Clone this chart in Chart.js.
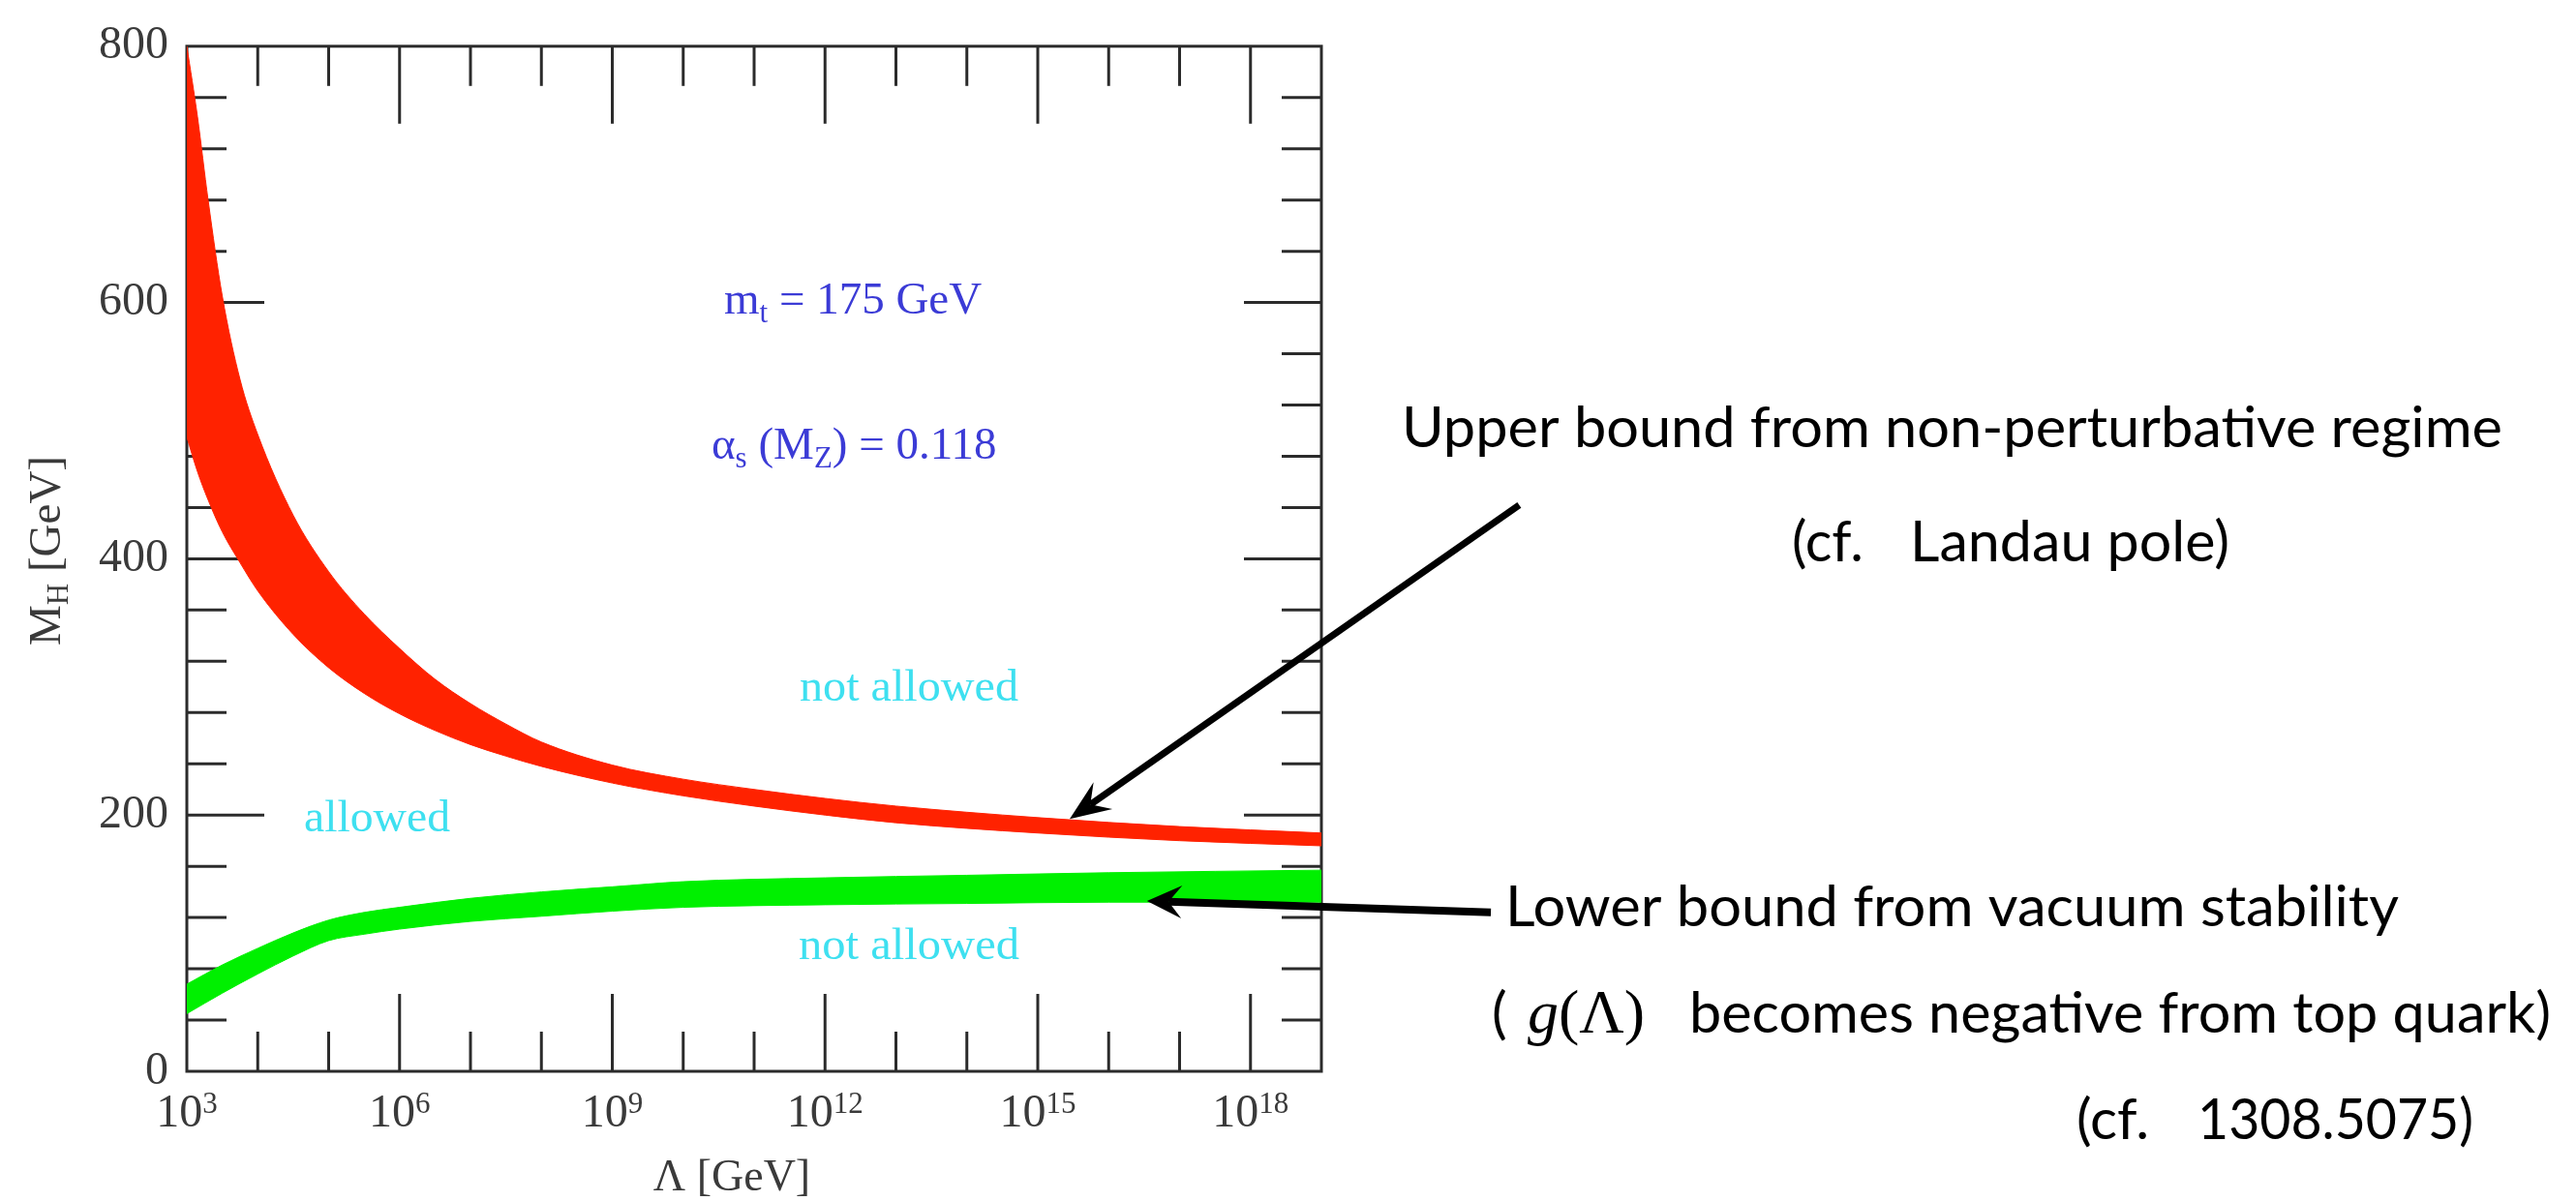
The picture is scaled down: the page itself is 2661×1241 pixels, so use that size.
<!DOCTYPE html>
<html><head><meta charset="utf-8">
<script src="https://cdn.jsdelivr.net/npm/chart.js@4.4.1/dist/chart.umd.min.js"></script>
<style>html,body{margin:0;padding:0;background:#fff;overflow:hidden}canvas{display:block}</style>
</head><body>
<canvas id="c" width="2661" height="1241"></canvas>
<script>
// ---- data (x given as log10 of Lambda in GeV) ----
const redExp     = [3, 3.15, 3.3, 3.5, 3.75, 4, 4.5, 5, 5.5, 6, 6.5, 7, 7.5, 8, 9, 10, 11, 12, 13, 15, 17, 19];
const redUpper   = [800, 745, 680, 605, 540, 497, 434, 390, 357, 330, 306, 287, 271, 257, 239, 228, 220, 213, 207, 198, 191, 186];
const redLower   = [495, 468, 446, 421, 397, 375, 341, 315, 295, 279, 266, 255, 246, 238, 225, 215, 207, 200, 194, 186, 180, 176];
const greenExp   = [3, 3.5, 4, 4.5, 5, 5.5, 6, 7, 8, 9, 10, 12, 14, 16, 19];
const greenUpper = [68, 83, 96, 108, 118, 124, 128, 135, 140, 144, 148, 151, 153, 155, 157];
const greenLower = [45, 61, 76, 90, 102, 107, 111, 117, 121, 125, 128, 130, 131, 132, 132];
const xTickExps  = [3,4,5,6,7,8,9,10,11,12,13,14,15,16,17,18,19];
const xLabelExps = [3,6,9,12,15,18];
const yLabelVals = [0,200,400,600,800];

const RED = '#ff2200', GREEN = '#00f000';
const BLUE = '#3b3bd6', CYAN = '#3ee0f0', INK = '#2b2b2b';
const SERIF = '"Liberation Serif", "Times New Roman", serif';
const SANS = 'Lato, "Open Sans", sans-serif';

const pts = (ex, vals) => ex.map((e, i) => ({x: Math.pow(10, e), y: vals[i]}));

// arrows: data coordinates (log10 Lambda, M_H)
const arrows = [
  {from: [21.79, 442], to: [15.45, 197], lw: 7, len: 42, half: 17},
  {from: [21.39, 124], to: [16.54, 133], lw: 8, len: 36, half: 17}
];

function fitText(ctx, str, x0, x1, base, font, color) {
  ctx.save();
  ctx.font = font;
  const w = ctx.measureText(str).width;
  ctx.translate(x0, base);
  ctx.scale((x1 - x0) / w, 1);
  ctx.fillStyle = color; ctx.textAlign = 'left'; ctx.textBaseline = 'alphabetic';
  ctx.fillText(str, 0, 0);
  ctx.restore();
}
function runs(ctx, list, x, base, color, family) {
  ctx.save();
  ctx.fillStyle = color; ctx.textAlign = 'left'; ctx.textBaseline = 'alphabetic';
  list.forEach(r => {
    ctx.font = (r.style || '') + ' ' + r.size + 'px ' + family;
    ctx.fillText(r.t, x, base + (r.dy || 0));
    x += ctx.measureText(r.t).width;
  });
  ctx.restore();
  return x;
}
function runsWidth(ctx, list, family) {
  let w = 0;
  ctx.save();
  list.forEach(r => { ctx.font = (r.style || '') + ' ' + r.size + 'px ' + family; w += ctx.measureText(r.t).width; });
  ctx.restore();
  return w;
}
function drawArrow(ctx, x0, y0, x1, y1, lw, len, half) {
  const a = Math.atan2(y1 - y0, x1 - x0), c = Math.cos(a), s = Math.sin(a);
  const notch = len * 0.62;
  const bx = x1 - c * notch, by = y1 - s * notch;
  const hx = x1 - c * len, hy = y1 - s * len;
  ctx.save();
  ctx.strokeStyle = '#000'; ctx.fillStyle = '#000'; ctx.lineWidth = lw; ctx.lineCap = 'butt';
  ctx.beginPath(); ctx.moveTo(x0, y0); ctx.lineTo(bx, by); ctx.stroke();
  ctx.beginPath(); ctx.moveTo(x1, y1);
  ctx.lineTo(hx - s * half, hy + c * half);
  ctx.lineTo(bx, by);
  ctx.lineTo(hx + s * half, hy - c * half);
  ctx.closePath(); ctx.fill();
  ctx.restore();
}

const decor = {
  id: 'decor',
  beforeDatasetsDraw(chart) {
    const {ctx, chartArea: a, scales: {x, y}} = chart;
    ctx.save();
    ctx.strokeStyle = INK; ctx.lineWidth = 3; ctx.lineCap = 'butt';
    const seg = (x0, y0, x1, y1) => { ctx.beginPath(); ctx.moveTo(x0, y0); ctx.lineTo(x1, y1); ctx.stroke(); };
    x.ticks.forEach(t => {
      const e = Math.round(Math.log10(t.value));
      if (e <= 3 || e >= 19) return;
      const px = x.getPixelForValue(t.value);
      const len = xLabelExps.includes(e) ? 80 : 41;
      seg(px, a.bottom, px, a.bottom - len);
      seg(px, a.top, px, a.top + len);
    });
    y.ticks.forEach(t => {
      if (t.value <= 0 || t.value >= 800) return;
      const py = y.getPixelForValue(t.value);
      const len = yLabelVals.includes(t.value) ? 80 : 41;
      seg(a.left, py, a.left + len, py);
      seg(a.right, py, a.right - len, py);
    });
    ctx.strokeRect(a.left, a.top, a.right - a.left, a.bottom - a.top);
    ctx.restore();
  },
  afterDraw(chart) {
    const {ctx, scales: {x, y}} = chart;
    // x tick labels 10^n
    x.ticks.forEach(t => {
      const e = Math.round(Math.log10(t.value));
      if (!xLabelExps.includes(e)) return;
      const px = x.getPixelForValue(t.value);
      const list = [{t: '10', size: 48}, {t: String(e), size: 31, dy: -14}];
      const w = runsWidth(ctx, list, SERIF);
      runs(ctx, list, px - w / 2, 1164, '#3a3a3a', SERIF);
    });
    // axis titles
    const xt = [{t: '\u039B [GeV]', size: 46}];
    runs(ctx, xt, 756 - runsWidth(ctx, xt, SERIF) / 2, 1230, '#3a3a3a', SERIF);
    ctx.save();
    ctx.translate(62, 569); ctx.rotate(-Math.PI / 2);
    const yt = [{t: 'M', size: 47}, {t: 'H', size: 31, dy: 8}, {t: ' [GeV]', size: 47}];
    runs(ctx, yt, -runsWidth(ctx, yt, SERIF) / 2, 0, '#3a3a3a', SERIF);
    ctx.restore();
    // in-plot labels
    runs(ctx, [{t: 'm', size: 47}, {t: 't', size: 31, dy: 9}, {t: ' = 175 GeV', size: 47}], 748, 324, BLUE, SERIF);
    runs(ctx, [{t: '\u03B1', size: 47}, {t: 's', size: 31, dy: 9}, {t: ' (M', size: 47}, {t: 'Z', size: 31, dy: 9}, {t: ') = 0.118', size: 47}], 735, 474, BLUE, SERIF);
    fitText(ctx, 'not allowed', 826, 1052, 724, '47px ' + SERIF, CYAN);
    fitText(ctx, 'not allowed', 825, 1053, 991, '47px ' + SERIF, CYAN);
    fitText(ctx, 'allowed', 314, 465, 859, '47px ' + SERIF, CYAN);
    // annotations
    const F = '59px ' + SANS;
    fitText(ctx, 'Upper bound from non-perturbative regime', 1448, 2585, 462, F, '#000');
    fitText(ctx, '(cf.', 1851, 1925, 580, F, '#000');
    fitText(ctx, 'Landau pole)', 1973, 2303, 580, F, '#000');
    fitText(ctx, 'Lower bound from vacuum stability', 1555, 2478, 957, F, '#000');
    ctx.save(); ctx.font = F; ctx.fillStyle = '#000'; ctx.fillText('(', 1541, 1067); ctx.restore();
    runs(ctx, [{t: 'g', size: 64, style: 'italic'}, {t: '(', size: 64}, {t: '\u039B', size: 64}, {t: ')', size: 64}], 1578, 1067, '#000', SERIF);
    fitText(ctx, 'becomes negative from top quark)', 1745, 2635, 1067, F, '#000');
    fitText(ctx, '(cf.', 2145, 2220, 1177, F, '#000');
    fitText(ctx, '1308.5075)', 2270, 2555, 1177, F, '#000');
    // arrows
    arrows.forEach(ar => {
      drawArrow(ctx,
        x.getPixelForValue(Math.pow(10, ar.from[0])), y.getPixelForValue(ar.from[1]),
        x.getPixelForValue(Math.pow(10, ar.to[0])), y.getPixelForValue(ar.to[1]),
        ar.lw, ar.len, ar.half);
    });
  }
};

const band = (data, color, fill) => ({
  data, fill, backgroundColor: color, borderColor: color, borderWidth: 1,
  pointRadius: 0, cubicInterpolationMode: 'monotone'
});

new Chart(document.getElementById('c').getContext('2d'), {
  type: 'line',
  data: {
    datasets: [
      band(pts(redExp, redUpper), RED, '+1'),
      band(pts(redExp, redLower), RED, false),
      band(pts(greenExp, greenUpper), GREEN, '+1'),
      band(pts(greenExp, greenLower), GREEN, false)
    ]
  },
  options: {
    responsive: false, animation: false, devicePixelRatio: 1,
    layout: {padding: {left: 0, right: 1296, top: 31, bottom: 0}},
    plugins: {legend: {display: false}, tooltip: {enabled: false}},
    scales: {
      x: {
        type: 'logarithmic', min: 1e3, max: 1e19,
        grid: {display: false, drawTicks: false}, border: {display: false},
        ticks: {display: false},
        afterBuildTicks: s => { s.ticks = xTickExps.map(e => ({value: Math.pow(10, e)})); },
        afterFit: s => { s.height = 134; }
      },
      y: {
        type: 'linear', min: 0, max: 800,
        grid: {display: false, drawTicks: false}, border: {display: false},
        ticks: {
          stepSize: 40, autoSkip: false, padding: 19, color: '#3a3a3a',
          font: {family: SERIF, size: 48},
          callback: v => yLabelVals.includes(v) ? String(v) : ''
        },
        afterFit: s => { s.width = 193; }
      }
    }
  },
  plugins: [decor]
});
</script>
</body></html>
